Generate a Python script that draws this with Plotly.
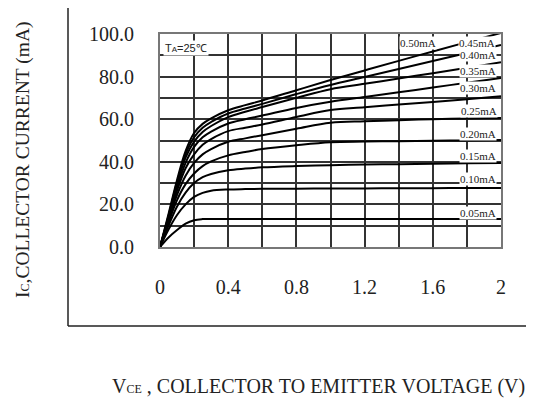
import plotly.graph_objects as go

vce = [0, 0.05, 0.1, 0.15, 0.2, 0.25, 0.3, 0.4, 0.5, 0.6, 0.8, 1.0, 1.2, 1.4, 1.6, 1.8, 2.0]

ib_labels = ["0.05mA", "0.10mA", "0.15mA", "0.20mA", "0.25mA",
             "0.30mA", "0.35mA", "0.40mA", "0.45mA", "0.50mA"]

ic_005 = [0, 4.5, 8, 11, 12.6, 13.1, 13.2, 13.1, 13.1, 13.1, 13.1, 13.1, 13.1, 13.1, 13.1, 13.1, 13.1]
ic_010 = [0, 8.2, 15, 20, 23.5, 25.4, 26.4, 27, 27.2, 27.3, 27.4, 27.5, 27.5, 27.6, 27.6, 27.7, 27.7]
ic_015 = [0, 10, 19, 25.5, 30, 32.8, 34.3, 36, 36.8, 37.4, 38, 38.4, 38.7, 38.9, 39.1, 39.3, 39.4]
ic_020 = [0, 11.5, 22, 29.5, 34.5, 38, 40.2, 43, 44.6, 46, 47.8, 49.2, 49.5, 49.7, 49.9, 50, 50.2]
ic_025 = [0, 12.5, 24.5, 33.5, 39.5, 43.5, 46, 49.4, 51, 52.5, 55.5, 58.3, 59, 59.5, 60, 60.3, 60.6]
ic_030 = [0, 13, 26.5, 37, 43.5, 48, 50.7, 54.4, 56, 57.5, 61, 64.3, 65.6, 66.9, 68.1, 69.4, 70.8]
ic_035 = [0, 13.5, 28, 39.5, 47, 51.5, 54.2, 58, 60, 61.7, 65.3, 68.2, 70.4, 72.6, 74.9, 77.1, 79.4]
ic_040 = [0, 14, 29.5, 42, 49.5, 54, 56.8, 61, 63.5, 65.7, 70, 74.1, 76.6, 79.1, 81.6, 84.1, 86.7]
ic_045 = [0, 14.8, 30.5, 43.5, 51.5, 56, 58.7, 62.7, 65, 67.2, 71.8, 76.1, 79.8, 83.6, 87.3, 91.1, 94.8]
ic_050 = [0, 15.5, 31.5, 45, 53.5, 57.8, 60.4, 64.2, 66.6, 68.8, 73.6, 78.4, 82.9, 87.4, 91.8, 96.2, 100.5]

curves = [ic_005, ic_010, ic_015, ic_020, ic_025, ic_030, ic_035, ic_040, ic_045, ic_050]

x_ticks = [0, 0.4, 0.8, 1.2, 1.6, 2]
x_tick_text = ["0", "0.4", "0.8", "1.2", "1.6", "2"]
y_ticks = [0, 20, 40, 60, 80, 100]
y_tick_text = ["0.0", "20.0", "40.0", "60.0", "80.0", "100.0"]

fig = go.Figure()
for name, ic in zip(ib_labels, curves):
    fig.add_trace(go.Scatter(x=vce, y=ic, mode="lines", name=name,
                             line=dict(color="black", width=2, shape="spline", smoothing=1.0),
                             showlegend=False, hoverinfo="skip"))

serif = "Liberation Serif, Times New Roman, serif"

# page body has an 8px margin: figure is 526x392 so it fills the 534x400 window
fig.update_layout(
    width=526, height=392,
    margin=dict(l=152, r=33, t=26, b=153),
    paper_bgcolor="white", plot_bgcolor="white",
    font=dict(family=serif, size=20, color="#222"),
)
fig.update_xaxes(
    range=[0, 2], tickvals=x_ticks, ticktext=x_tick_text,
    showgrid=True, gridcolor="#333", gridwidth=1.5,
    minor=dict(dtick=0.2, tick0=0, showgrid=True, gridcolor="#333", gridwidth=1.5),
    showline=True, linecolor="#777", linewidth=2, mirror=True,
    ticks="", ticklabelstandoff=21, zeroline=False,
    tickfont=dict(family=serif, size=20, color="#222"),
)
fig.update_yaxes(
    range=[0, 100], tickvals=y_ticks, ticktext=y_tick_text,
    showgrid=True, gridcolor="#333", gridwidth=1.5,
    minor=dict(dtick=10, tick0=0, showgrid=True, gridcolor="#333", gridwidth=1.5),
    showline=True, linecolor="#777", linewidth=2, mirror=True,
    ticks="", ticklabelstandoff=20, zeroline=False,
    tickfont=dict(family=serif, size=20, color="#222"),
)

# curve labels
label_pos = {
    "0.50mA": (1.513, 95.8), "0.45mA": (1.86, 95.8), "0.40mA": (1.865, 90.1),
    "0.35mA": (1.865, 82.6), "0.30mA": (1.865, 74.6), "0.25mA": (1.87, 63.8),
    "0.20mA": (1.865, 53.0), "0.15mA": (1.865, 42.7), "0.10mA": (1.865, 31.9),
    "0.05mA": (1.865, 16.0),
}
for name in ib_labels:
    lx, ly = label_pos[name]
    fig.add_annotation(x=lx, y=ly, text=name, showarrow=False,
                       font=dict(family=serif, size=11, color="#222"),
                       bgcolor="white", borderpad=0)

fig.add_annotation(x=0.02, y=97, xanchor="left", yanchor="top",
                   text='T<span style="font-size:8px">A</span>=25℃', showarrow=False,
                   font=dict(family="Liberation Sans, Arial, sans-serif", size=11, color="#222"),
                   bgcolor="white", borderpad=1)

# axis titles
fig.add_annotation(xref="paper", yref="paper", x=(318 - 160) / 341, y=(247 - 386) / 213,
                   xanchor="center", yanchor="middle",
                   text='V<span style="font-size:12px">CE</span> , COLLECTOR TO EMITTER VOLTAGE (V)',
                   showarrow=False, font=dict(family=serif, size=20, color="#222"))
fig.add_annotation(xref="paper", yref="paper", x=(23 - 160) / 341, y=(247 - 160) / 213,
                   xanchor="center", yanchor="middle",
                   text='I<span style="font-size:12px">C</span>,COLLECTOR CURRENT (mA)',
                   textangle=-90, showarrow=False, font=dict(family=serif, size=19.5, color="#222"))

# outer frame
fig.add_shape(type="line", xref="paper", yref="paper",
              x0=(68 - 160) / 341, x1=(68 - 160) / 341, y0=(247 - 326) / 213, y1=(247 + 10) / 213,
              line=dict(color="#222", width=1.5))
fig.add_shape(type="line", xref="paper", yref="paper",
              x0=(68 - 160) / 341, x1=(545 - 160) / 341, y0=(247 - 326) / 213, y1=(247 - 326) / 213,
              line=dict(color="#222", width=1.5))

fig.write_html("out.html")
